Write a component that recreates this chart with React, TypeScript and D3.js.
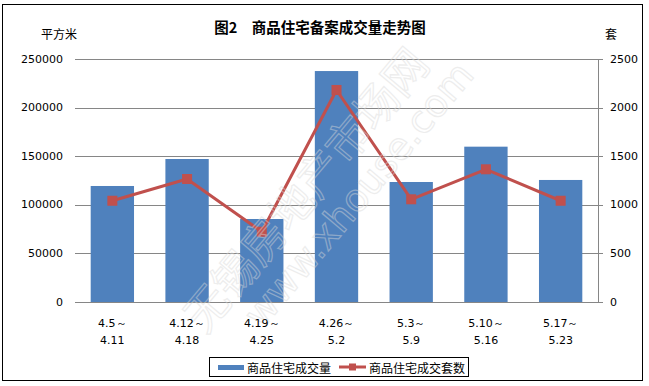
import React from "react";
import * as d3 from "d3";

// weekly periods (two-line labels)
const periodStart = ["4.5～", "4.12～", "4.19～", "4.26～", "5.3～", "5.10～", "5.17～"];
const periodEnd = ["4.11", "4.18", "4.25", "5.2", "5.9", "5.16", "5.23"];

// 商品住宅成交量 (平方米)
const areaValues = [119500, 147300, 85500, 237900, 123600, 160000, 125700];
// 商品住宅成交套数 (套)
const unitValues = [1043, 1267, 724, 2184, 1058, 1367, 1043];

const leftTicks = [0, 50000, 100000, 150000, 200000, 250000];
const rightTicks = [0, 500, 1000, 1500, 2000, 2500];

const title = "图2　商品住宅备案成交量走势图";
const seriesNames = ["商品住宅成交量", "商品住宅成交套数"];

const W = 649;
const H = 386;
const plot = { left: 75, right: 598, top: 59.3, bottom: 302 };
const BLUE = "#4F81BD";
const RED = "#C0504D";
const GRID = "#868686";
const numFont = "DejaVu Sans, sans-serif";
const cjkFont = "'Noto Sans CJK SC', sans-serif";

export default function App() {
  const cats = periodEnd.map((_, i) => String(i));

  const x = d3
    .scaleBand()
    .domain(cats)
    .range([plot.left, plot.right])
    .paddingInner(0.42)
    .paddingOuter(0.21);

  const yL = d3.scaleLinear().domain([0, 250000]).range([plot.bottom, plot.top]);
  const yR = d3.scaleLinear().domain([0, 2500]).range([plot.bottom, plot.top]);

  const cx = (i: number) => (x(cats[i]) ?? 0) + x.bandwidth() / 2;

  const line = d3
    .line<number>()
    .x((_, i) => cx(i))
    .y((d) => yR(d));

  return (
    <svg
      width={W}
      height={H}
      style={{ position: "absolute", left: 0, top: 0, background: "#fff" }}
    >
      <rect x={2.5} y={4.5} width={640} height={376} fill="#fff" stroke="#000" strokeWidth={1} />

      <text
        x={320}
        y={26}
        textAnchor="middle"
        dominantBaseline="central"
        fontFamily={cjkFont}
        fontWeight={700}
        fontSize={14.5}
        fill="#000"
      >
        {title}
      </text>

      <text x={59} y={33} textAnchor="middle" dominantBaseline="central" fontFamily={cjkFont} fontSize={12}>
        平方米
      </text>
      <text x={611} y={33} textAnchor="middle" dominantBaseline="central" fontFamily={cjkFont} fontSize={12}>
        套
      </text>

      {/* gridlines + left labels */}
      {leftTicks.map((t) => (
        <g key={"l" + t}>
          <line x1={plot.left} x2={plot.right} y1={Math.round(yL(t)) + 0.5} y2={Math.round(yL(t)) + 0.5} stroke={GRID} strokeWidth={1} />
          <text x={63} y={yL(t)} textAnchor="end" dominantBaseline="central" fontFamily={numFont} fontSize={11} fill="#000">
            {t}
          </text>
        </g>
      ))}

      {/* right axis */}
      <line x1={plot.right + 0.5} x2={plot.right + 0.5} y1={plot.top} y2={plot.bottom} stroke={GRID} strokeWidth={1} />
      {rightTicks.map((t) => (
        <g key={"r" + t}>
          <line x1={plot.right} x2={plot.right + 5} y1={Math.round(yR(t)) + 0.5} y2={Math.round(yR(t)) + 0.5} stroke={GRID} strokeWidth={1} />
          <text x={610} y={yR(t)} dominantBaseline="central" fontFamily={numFont} fontSize={11} fill="#000">
            {t}
          </text>
        </g>
      ))}

      {/* bars */}
      {areaValues.map((v, i) => (
        <rect
          key={"b" + i}
          x={x(cats[i])}
          y={yL(v)}
          width={x.bandwidth()}
          height={yL(0) - yL(v)}
          fill={BLUE}
        />
      ))}

      {/* line series */}
      <path d={line(unitValues) ?? ""} fill="none" stroke={RED} strokeWidth={3} strokeLinejoin="round" />
      {unitValues.map((v, i) => (
        <rect key={"m" + i} x={cx(i) - 5} y={yR(v) - 5} width={10} height={10} fill={RED} />
      ))}

      {/* watermark */}
      <g opacity={0.45} fill="none" stroke="#d8d8d8" strokeWidth={1.2}>
        <text
          transform="translate(205,335) rotate(-50)"
          fontFamily={cjkFont}
          fontSize={44}
        >
          无锡房地产市场网
        </text>
        <text
          transform="translate(262,330) rotate(-50)"
          fontFamily={numFont}
          fontSize={38}
        >
          www.xhouse.com
        </text>
      </g>

      {/* x labels */}
      {cats.map((c, i) => (
        <g key={"x" + c} fontFamily={numFont} fontSize={11} fill="#000" textAnchor="middle">
          <text x={cx(i)} y={323} dominantBaseline="central">
            {periodStart[i]}
          </text>
          <text x={cx(i)} y={340} dominantBaseline="central">
            {periodEnd[i]}
          </text>
        </g>
      ))}

      {/* legend */}
      <rect x={209.5} y={357.5} width={259} height={19} fill="#fff" stroke="#000" strokeWidth={1} />
      <rect x={218} y={365} width={26} height={5} fill={BLUE} />
      <text x={247} y={367} dominantBaseline="central" fontFamily={cjkFont} fontSize={12}>
        {seriesNames[0]}
      </text>
      <line x1={339} x2={366} y1={367} y2={367} stroke={RED} strokeWidth={3} />
      <rect x={349} y={363.5} width={7} height={7} fill={RED} />
      <text x={369} y={367} dominantBaseline="central" fontFamily={cjkFont} fontSize={12}>
        {seriesNames[1]}
      </text>
    </svg>
  );
}
